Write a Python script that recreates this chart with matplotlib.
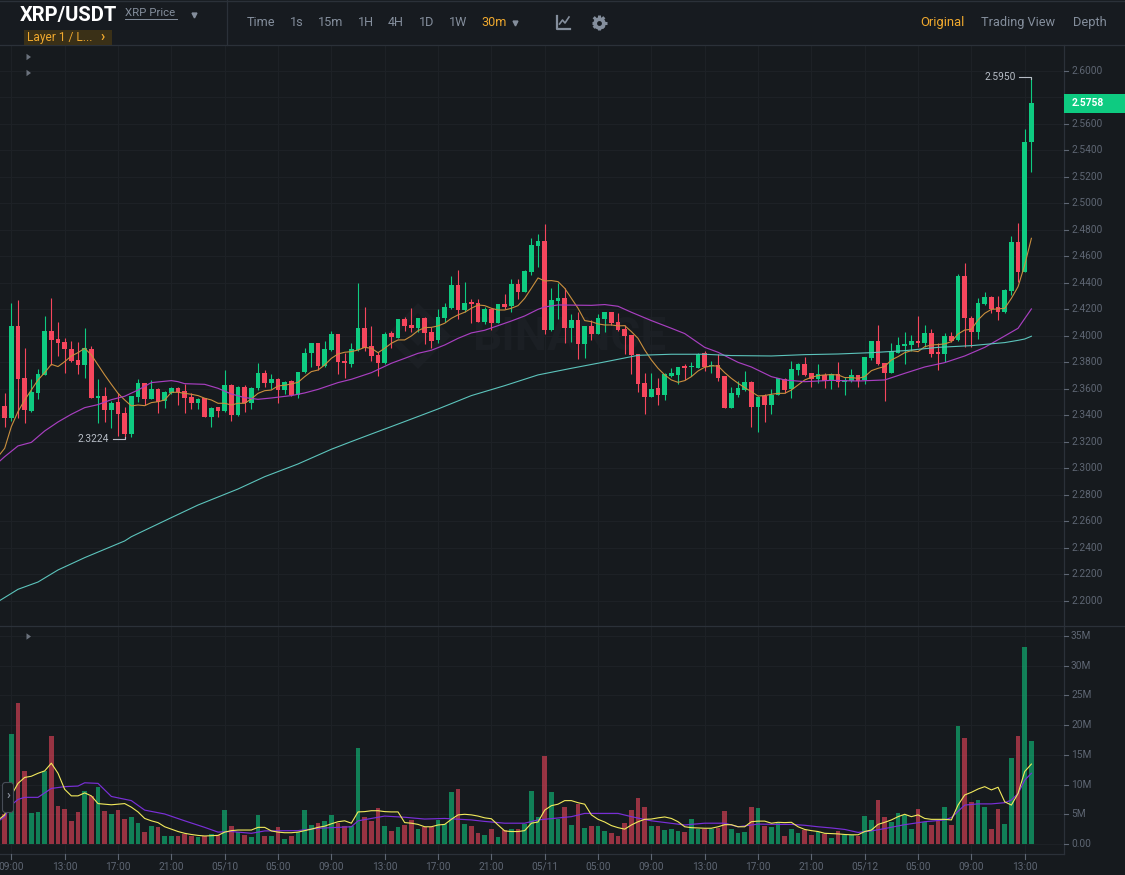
import matplotlib
matplotlib.use("Agg")
import matplotlib.pyplot as plt
from matplotlib.patches import FancyBboxPatch, Polygon, Rectangle

plt.rcParams['font.family'] = ['Roboto', 'DejaVu Sans']

W, H = 1125, 875
BG = '#161a1e'
GRID = '#1d2126'
AXIS = '#2b3139'
TICK = '#5e6673'
MUTED = '#848e9c'
GOLD = '#f0a92e'
UP = '#0ecb81'
DOWN = '#f6465d'
MARK = '#1b1f24'

#####
# 30m candles, 05/09 08:30 to 05/12 13:30
opens = [2.3470, 2.3377, 2.4073, 2.3678, 2.3432, 2.3570, 2.3704, 2.4038, 2.3975, 2.3950,
         2.3897, 2.3817, 2.3779, 2.3897, 2.3533, 2.3548, 2.3440, 2.3497, 2.3419, 2.3256,
         2.3540, 2.3641, 2.3522, 2.3598, 2.3510, 2.3570, 2.3606, 2.3585, 2.3535, 2.3495,
         2.3528, 2.3389, 2.3460, 2.3432, 2.3628, 2.3402, 2.3616, 2.3490, 2.3603, 2.3716,
         2.3641, 2.3671, 2.3590, 2.3656, 2.3553, 2.3724, 2.3867, 2.3943, 2.3772, 2.3892,
         2.4013, 2.3809, 2.3787, 2.3892, 2.4061, 2.3922, 2.3855, 2.3792, 2.4018, 2.3985,
         2.4124, 2.4084, 2.4058, 2.4136, 2.4026, 2.3968, 2.4131, 2.4207, 2.4383, 2.4194,
         2.4252, 2.4245, 2.4106, 2.4199, 2.4094, 2.4240, 2.4224, 2.4390, 2.4333, 2.4479,
         2.4680, 2.4712, 2.4043, 2.4265, 2.4285, 2.4061, 2.4119, 2.3938, 2.4074, 2.4013,
         2.4126, 2.4177, 2.4106, 2.4051, 2.4003, 2.3860, 2.3641, 2.3540, 2.3603, 2.3553,
         2.3696, 2.3704, 2.3772, 2.3762, 2.3759, 2.3867, 2.3772, 2.3779, 2.3696, 2.3457,
         2.3553, 2.3590, 2.3648, 2.3465, 2.3545, 2.3477, 2.3553, 2.3673, 2.3595, 2.3739,
         2.3789, 2.3716, 2.3673, 2.3704, 2.3661, 2.3709, 2.3648, 2.3658, 2.3701, 2.3666,
         2.3829, 2.3960, 2.3797, 2.3721, 2.3872, 2.3922, 2.3928, 2.3960, 2.3943, 2.4021,
         2.3875, 2.3862, 2.3998, 2.3968, 2.4451, 2.4136, 2.4028, 2.4240, 2.4295, 2.4214,
         2.4179, 2.4340, 2.4710, 2.4478, 2.5459]
highs = [2.3565, 2.4245, 2.4270, 2.3910, 2.3673, 2.3746, 2.4149, 2.4287, 2.4101, 2.3980,
         2.3960, 2.3950, 2.4058, 2.3925, 2.3671, 2.3611, 2.3510, 2.3565, 2.3465, 2.3545,
         2.3673, 2.3646, 2.3666, 2.3603, 2.3583, 2.3616, 2.3611, 2.3633, 2.3565, 2.3533,
         2.3533, 2.3465, 2.3465, 2.3741, 2.3633, 2.3621, 2.3628, 2.3616, 2.3797, 2.3741,
         2.3709, 2.3678, 2.3658, 2.3666, 2.3729, 2.3905, 2.3948, 2.3948, 2.3960, 2.4038,
         2.4013, 2.3867, 2.3948, 2.4395, 2.4214, 2.4076, 2.3880, 2.4031, 2.4036, 2.4126,
         2.4139, 2.4207, 2.4136, 2.4144, 2.4063, 2.4199, 2.4245, 2.4451, 2.4496, 2.4403,
         2.4277, 2.4277, 2.4219, 2.4207, 2.4240, 2.4315, 2.4428, 2.4428, 2.4496, 2.4735,
         2.4768, 2.4843, 2.4358, 2.4395, 2.4358, 2.4162, 2.4182, 2.4074, 2.4119, 2.4164,
         2.4177, 2.4177, 2.4169, 2.4081, 2.4006, 2.3860, 2.3716, 2.3716, 2.3678, 2.3716,
         2.3759, 2.3767, 2.3784, 2.3804, 2.3867, 2.3887, 2.3812, 2.3862, 2.3696, 2.3616,
         2.3661, 2.3736, 2.3661, 2.3545, 2.3560, 2.3595, 2.3683, 2.3678, 2.3809, 2.3792,
         2.3840, 2.3721, 2.3784, 2.3721, 2.3716, 2.3799, 2.3691, 2.3746, 2.3706, 2.3842,
         2.3963, 2.4081, 2.3797, 2.3943, 2.3993, 2.4026, 2.4006, 2.4149, 2.4081, 2.4051,
         2.3943, 2.4018, 2.4026, 2.4466, 2.4551, 2.4149, 2.4287, 2.4328, 2.4300, 2.4300,
         2.4350, 2.4753, 2.4848, 2.5558, 2.5950]
lows = [2.3309, 2.3359, 2.3377, 2.3339, 2.3427, 2.3520, 2.3704, 2.3779, 2.3847, 2.3716,
        2.3804, 2.3711, 2.3678, 2.3528, 2.3344, 2.3351, 2.3304, 2.3243, 2.3224, 2.3233,
        2.3502, 2.3477, 2.3522, 2.3419, 2.3457, 2.3560, 2.3477, 2.3417, 2.3447, 2.3445,
        2.3389, 2.3309, 2.3389, 2.3427, 2.3356, 2.3397, 2.3427, 2.3445, 2.3590, 2.3611,
        2.3595, 2.3495, 2.3560, 2.3548, 2.3528, 2.3719, 2.3767, 2.3741, 2.3767, 2.3887,
        2.3711, 2.3678, 2.3767, 2.3887, 2.3887, 2.3809, 2.3699, 2.3787, 2.3905, 2.3985,
        2.4038, 2.4026, 2.4031, 2.3938, 2.3910, 2.3948, 2.4101, 2.4202, 2.4124, 2.4182,
        2.4099, 2.4106, 2.4089, 2.4043, 2.4094, 2.4202, 2.4182, 2.4275, 2.4328, 2.4458,
        2.4516, 2.4013, 2.4038, 2.4129, 2.3943, 2.3955, 2.3825, 2.3830, 2.3968, 2.4013,
        2.4031, 2.4081, 2.4038, 2.3862, 2.3711, 2.3578, 2.3409, 2.3540, 2.3477, 2.3515,
        2.3686, 2.3636, 2.3666, 2.3699, 2.3754, 2.3736, 2.3716, 2.3661, 2.3452, 2.3452,
        2.3540, 2.3585, 2.3314, 2.3276, 2.3351, 2.3407, 2.3553, 2.3565, 2.3533, 2.3704,
        2.3699, 2.3616, 2.3646, 2.3608, 2.3598, 2.3616, 2.3555, 2.3653, 2.3616, 2.3633,
        2.3817, 2.3779, 2.3507, 2.3721, 2.3867, 2.3784, 2.3887, 2.3917, 2.3917, 2.3842,
        2.3741, 2.3804, 2.3955, 2.3960, 2.3912, 2.3912, 2.3975, 2.4232, 2.4169, 2.4119,
        2.4174, 2.4307, 2.4403, 2.4478, 2.5233]
closes = [2.3377, 2.4073, 2.3673, 2.3440, 2.3573, 2.3711, 2.4038, 2.3968, 2.3943, 2.3897,
          2.3809, 2.3782, 2.3905, 2.3533, 2.3548, 2.3440, 2.3495, 2.3409, 2.3258, 2.3545,
          2.3641, 2.3520, 2.3598, 2.3502, 2.3578, 2.3608, 2.3578, 2.3528, 2.3495, 2.3523,
          2.3389, 2.3457, 2.3430, 2.3628, 2.3402, 2.3611, 2.3490, 2.3608, 2.3716, 2.3641,
          2.3673, 2.3590, 2.3653, 2.3553, 2.3726, 2.3872, 2.3943, 2.3772, 2.3897, 2.4013,
          2.3799, 2.3792, 2.3897, 2.4061, 2.3910, 2.3847, 2.3792, 2.4013, 2.3993, 2.4124,
          2.4076, 2.4061, 2.4131, 2.4018, 2.3963, 2.4141, 2.4217, 2.4383, 2.4194, 2.4250,
          2.4237, 2.4106, 2.4199, 2.4094, 2.4240, 2.4219, 2.4393, 2.4333, 2.4491, 2.4687,
          2.4712, 2.4043, 2.4270, 2.4285, 2.4061, 2.4119, 2.3938, 2.4074, 2.4013, 2.4136,
          2.4177, 2.4099, 2.4043, 2.4001, 2.3855, 2.3633, 2.3540, 2.3598, 2.3553, 2.3711,
          2.3716, 2.3764, 2.3754, 2.3772, 2.3865, 2.3762, 2.3779, 2.3684, 2.3457, 2.3565,
          2.3606, 2.3648, 2.3465, 2.3540, 2.3477, 2.3555, 2.3678, 2.3590, 2.3746, 2.3789,
          2.3704, 2.3673, 2.3709, 2.3661, 2.3711, 2.3648, 2.3666, 2.3701, 2.3661, 2.3837,
          2.3960, 2.3787, 2.3721, 2.3882, 2.3930, 2.3935, 2.3960, 2.3943, 2.4021, 2.3862,
          2.3860, 2.4000, 2.3963, 2.4451, 2.4131, 2.4031, 2.4245, 2.4292, 2.4202, 2.4179,
          2.4345, 2.4705, 2.4484, 2.5465, 2.5758]

# traded volume per candle, in millions
volumes = [5.05, 18.5, 23.8, 12.2, 5.3, 5.4, 12.2, 18.2, 6.4, 5.9,
           3.8, 5.4, 9.0, 8.1, 9.6, 5.6, 5.0, 5.8, 4.2, 4.5,
           3.5, 2.0, 3.0, 2.9, 1.35, 1.35, 1.35, 1.7, 1.4, 1.2,
           1.35, 1.6, 1.5, 5.7, 3.1, 2.1, 1.5, 1.2, 4.9, 1.4,
           1.35, 2.9, 0.85, 1.35, 2.1, 5.7, 3.2, 3.5, 3.9, 4.9,
           3.5, 3.0, 3.0, 16.1, 4.5, 3.8, 6.0, 3.1, 2.2, 2.9,
           3.25, 4.0, 2.5, 2.8, 2.8, 4.1, 3.3, 8.75, 9.3, 3.3,
           3.0, 1.8, 1.45, 2.5, 1.2, 2.35, 2.5, 2.45, 3.4, 9.0,
           4.5, 14.8, 8.75, 4.25, 6.3, 3.2, 6.7, 2.7, 3.0, 3.0,
           2.2, 1.8, 1.35, 3.6, 5.7, 7.8, 6.3, 3.0, 3.1, 2.35,
           2.45, 2.25, 2.0, 4.25, 2.45, 2.5, 2.5, 2.75, 5.55, 2.6,
           1.9, 2.0, 6.3, 6.05, 3.1, 2.9, 3.6, 1.35, 2.6, 1.8,
           2.35, 1.5, 2.1, 1.7, 1.0, 2.2, 1.5, 1.5, 1.35, 4.7,
           4.0, 7.4, 4.6, 3.75, 5.3, 4.9, 2.45, 5.95, 3.75, 3.2,
           3.9, 6.2, 3.25, 19.85, 17.9, 7.1, 7.4, 6.3, 2.45, 5.9,
           3.35, 14.5, 18.2, 33.1, 17.4]

# orange average on the price pane, from just left of the first candle, one value per candle
ma_fast = [2.3087, 2.3150, 2.3314, 2.3427, 2.3515, 2.3590, 2.3666, 2.3721, 2.3784, 2.3767, 2.3804,
           2.3847, 2.3872, 2.3905, 2.3855, 2.3779, 2.3704, 2.3633, 2.3565, 2.3515, 2.3470,
           2.3477, 2.3472, 2.3495, 2.3502, 2.3515, 2.3573, 2.3573, 2.3565, 2.3558, 2.3548,
           2.3528, 2.3515, 2.3490, 2.3490, 2.3477, 2.3490, 2.3490, 2.3523, 2.3565, 2.3585,
           2.3590, 2.3621, 2.3626, 2.3636, 2.3648, 2.3691, 2.3729, 2.3741, 2.3779, 2.3829,
           2.3862, 2.3875, 2.3880, 2.3892, 2.3912, 2.3905, 2.3872, 2.3905, 2.3943, 2.3968,
           2.3968, 2.3998, 2.4038, 2.4061, 2.4063, 2.4074, 2.4094, 2.4131, 2.4157, 2.4177,
           2.4207, 2.4232, 2.4227, 2.4207, 2.4194, 2.4194, 2.4207, 2.4227, 2.4282, 2.4358,
           2.4436, 2.4413, 2.4416, 2.4408, 2.4358, 2.4282, 2.4207, 2.4114, 2.4106, 2.4089,
           2.4081, 2.4081, 2.4074, 2.4076, 2.4031, 2.3980, 2.3892, 2.3817, 2.3754, 2.3704,
           2.3666, 2.3648, 2.3661, 2.3691, 2.3734, 2.3762, 2.3772, 2.3772, 2.3721, 2.3678,
           2.3641, 2.3608, 2.3578, 2.3545, 2.3548, 2.3558, 2.3565, 2.3565, 2.3590, 2.3628,
           2.3666, 2.3686, 2.3699, 2.3704, 2.3706, 2.3704, 2.3684, 2.3684, 2.3678, 2.3691,
           2.3736, 2.3754, 2.3767, 2.3817, 2.3842, 2.3872, 2.3887, 2.3880, 2.3917, 2.3930,
           2.3933, 2.3938, 2.3955, 2.4013, 2.4043, 2.4048, 2.4119, 2.4169, 2.4199, 2.4202,
           2.4207, 2.4282, 2.4370, 2.4534, 2.4735]

# purple and cyan averages are smooth, read at the candles listed beside them
ma_mid_idx = [-1, 0, 2, 4, 6, 8, 10, 12, 14, 16, 18, 20, 22, 24, 25, 26, 27, 30, 32, 34,
              36, 38, 40, 43, 45, 47, 50, 52, 55, 58, 60, 62, 64, 66, 68, 70, 72, 74, 76, 78,
              80, 81, 83, 88, 90, 92, 94, 97, 100, 102, 105, 107, 110, 112, 115, 117, 120, 124, 128, 132,
              135, 138, 141, 144, 147, 150, 152, 154]
ma_mid = [2.3042, 2.3087, 2.3168, 2.3195, 2.3281, 2.3349, 2.3407, 2.3457, 2.3480, 2.3517,
          2.3543, 2.3590, 2.3646, 2.3656, 2.3661, 2.3653, 2.3638, 2.3633, 2.3603, 2.3560,
          2.3533, 2.3520, 2.3530, 2.3548, 2.3568, 2.3595, 2.3646, 2.3671, 2.3721, 2.3792,
          2.3829, 2.3867, 2.3890, 2.3930, 2.3980, 2.4021, 2.4041, 2.4076, 2.4111, 2.4149,
          2.4199, 2.4217, 2.4232, 2.4229, 2.4235, 2.4222, 2.4177, 2.4114, 2.4056, 2.4016,
          2.3912, 2.3875, 2.3799, 2.3764, 2.3691, 2.3666, 2.3653, 2.3663, 2.3658, 2.3666,
          2.3716, 2.3764, 2.3797, 2.3847, 2.3912, 2.3998, 2.4056, 2.4202]
ma_slow_idx = [-1, 2, 5, 8, 12, 18, 19, 25, 29, 35, 39, 44, 49, 52, 55, 60, 65, 70, 75, 80,
               85, 90, 95, 100, 105, 109, 115, 120, 125, 130, 135, 140, 145, 150, 152, 153, 154]
ma_slow = [2.1993, 2.2086, 2.2141, 2.2232, 2.2325, 2.2451, 2.2483, 2.2627, 2.2722, 2.2843,
           2.2936, 2.3032, 2.3143, 2.3201, 2.3258, 2.3352, 2.3447, 2.3548, 2.3623, 2.3704,
           2.3754, 2.3802, 2.3852, 2.3860, 2.3860, 2.3850, 2.3847, 2.3857, 2.3862, 2.3872,
           2.3887, 2.3912, 2.3925, 2.3948, 2.3965, 2.3975, 2.3996]

# yellow average on the volume pane, same candles as ma_fast
vol_ma_fast = [4.0, 4.9, 8.2, 10.2, 11.2, 11.4, 11.9, 12.3, 13.6, 11.9, 9.2,
               8.1, 8.1, 8.6, 8.1, 6.8, 6.7, 6.6, 6.7, 6.8, 6.2,
               5.4, 4.3, 3.9, 3.6, 2.9, 2.5, 2.1, 1.8, 1.6, 1.45,
               1.35, 1.4, 1.45, 2.0, 2.25, 2.35, 2.35, 2.35, 2.8, 2.8,
               2.2, 2.0, 1.9, 1.9, 2.0, 2.25, 2.5, 2.8, 3.0, 3.4,
               3.75, 3.9, 3.5, 5.4, 5.45, 5.6, 5.6, 5.45, 5.4, 5.4,
               3.6, 3.5, 3.3, 2.9, 2.9, 3.2, 3.3, 4.15, 4.9, 5.0,
               4.9, 4.7, 4.4, 4.25, 3.2, 2.2, 2.1, 2.1, 2.25, 3.5,
               3.7, 5.7, 6.45, 6.7, 7.3, 7.3, 6.95, 6.7, 4.9, 4.15,
               3.7, 3.1, 2.75, 2.5, 3.2, 3.75, 4.15, 4.2, 4.4, 4.55,
               4.3, 3.75, 2.9, 2.75, 2.7, 2.65, 2.65, 2.9, 3.25, 3.25,
               2.9, 2.9, 3.75, 3.85, 3.85, 3.5, 3.65, 3.6, 3.65, 2.9,
               2.45, 2.25, 2.1, 1.8, 1.75, 1.7, 1.6, 1.55, 1.55, 2.1,
               2.35, 3.3, 3.65, 4.05, 4.6, 5.0, 4.6, 4.9, 4.3, 4.15,
               4.15, 4.15, 4.05, 6.55, 8.25, 8.7, 9.25, 9.65, 9.1, 9.55,
               7.1, 6.55, 8.5, 12.2, 13.45]

vol_ma_slow_idx = [-1, 0, 1, 2, 3, 5, 7, 9, 11, 12, 14, 16, 19, 21, 24, 27, 30, 32, 34, 37,
                   39, 44, 47, 52, 53, 55, 57, 60, 63, 66, 70, 72, 75, 78, 80, 85, 87, 92, 94, 97,
                   102, 105, 108, 110, 113, 116, 118, 120, 122, 124, 126, 128, 130, 132, 135, 138, 141, 142, 144, 146,
                   148, 150, 151, 152, 153, 154]
vol_ma_slow = [3.8, 4.6, 6.55, 7.5, 7.85, 7.85, 9.35, 9.65, 9.75, 10.3,
               10.2, 8.0, 7.3, 5.7, 5.05, 3.9, 2.8, 2.0, 2.1, 1.8,
               2.2, 2.25, 2.65, 2.9, 3.9, 4.3, 4.7, 4.5, 4.2, 4.3,
               4.05, 3.8, 3.5, 3.5, 4.05, 4.6, 5.15, 5.15, 4.6, 3.9,
               3.2, 3.5, 3.5, 2.9, 3.35, 3.3, 3.3, 3.15, 2.9, 2.7,
               2.45, 1.95, 2.2, 2.6, 3.25, 3.75, 4.05, 4.45, 6.55, 6.75,
               6.75, 6.95, 7.4, 8.5, 10.75, 11.9]

time_ticks = [1 + 8 * k for k in range(20)]
time_labels = ['09:00', '13:00', '17:00', '21:00', '05/10', '05:00', '09:00', '13:00', '17:00', '21:00',
               '05/11', '05:00', '09:00', '13:00', '17:00', '21:00', '05/12', '05:00', '09:00', '13:00']
price_ticks = [round(2.20 + 0.02 * k, 2) for k in range(21)]
vol_ticks = [0, 5, 10, 15, 20, 25, 30, 35]
vol_labels = ['0.00', '5M', '10M', '15M', '20M', '25M', '30M', '35M']
last_price = closes[-1]
top_price = 2.5950
bottom_price = 2.3224
#####


def pane(left, top, right, bottom):
    """axes placed by pixel edges, y measured from the top of the figure"""
    ax = fig.add_axes([left / W, 1 - bottom / H, (right - left) / W, (bottom - top) / H])
    ax.set_facecolor('none')
    for side in ax.spines.values():
        side.set_visible(False)
    ax.tick_params(left=False, right=False, top=False, bottom=False,
                   labelleft=False, labelbottom=False)
    return ax


def pixel_layer():
    """full-figure axes in pixel units, origin top left"""
    layer = fig.add_axes([0, 0, 1, 1])
    layer.set_xlim(0, W)
    layer.set_ylim(H, 0)
    layer.axis('off')
    layer.patch.set_alpha(0)
    return layer


fig = plt.figure(figsize=(W / 100, H / 100), dpi=100, facecolor=BG)

# faint exchange mark behind the candles
back = pixel_layer()
back.text(569, 337, 'BINANCE', color=MARK, fontsize=33, fontweight='bold', ha='center', va='center')
back.add_patch(Polygon([[418, 308], [446, 336], [418, 364], [390, 336]], fc='none', ec=MARK, lw=5))
back.add_patch(Polygon([[418, 326], [428, 336], [418, 346], [408, 336]], fc=MARK, ec='none'))

# candle i sits at 4.67 + 6.667 i pixels
x_range = (-4.67 / 6.667, (1063 - 4.67) / 6.667)
xs = list(range(len(closes)))
ma_xs = [-1] + xs
colors = [UP if c >= o else DOWN for o, c in zip(opens, closes)]

# price pane
ax = pane(0, 45, 1063, 626)
ax.set_xlim(*x_range)
ax.set_ylim(2.6 - (626 - 70.7) / 1325, 2.6 + (70.7 - 45) / 1325)
ax.set_xticks(time_ticks)
ax.set_yticks(price_ticks)
ax.grid(True, color=GRID, lw=0.8, zorder=0)
ax.set_axisbelow(True)

ax.vlines(xs, lows, highs, colors=colors, lw=0.8, zorder=3)
ax.bar(xs, [max(abs(c - o), 0.0006) for o, c in zip(opens, closes)],
       bottom=[min(o, c) for o, c in zip(opens, closes)],
       width=0.7, color=colors, lw=0, zorder=4)

ax.plot(ma_xs, ma_fast, color='#c98f3e', lw=0.8, zorder=5)
ax.plot(ma_mid_idx, ma_mid, color='#a83fc0', lw=0.85, zorder=5)
ax.plot(ma_slow_idx, ma_slow, color='#5cc4bc', lw=0.8, zorder=5)

# high and low callouts
ax.plot([152.2, 154, 154], [top_price, top_price, top_price - 0.001], color='#b7bdc6', lw=0.8, zorder=6)
ax.text(151.7, top_price, '%.4f' % top_price, color='#b7bdc6', fontsize=7.3, ha='right', va='center')
ax.plot([16.2, 18, 18], [bottom_price, bottom_price, bottom_price + 0.001], color='#b7bdc6', lw=0.8, zorder=6)
ax.text(15.7, bottom_price, '%.4f' % bottom_price, color='#b7bdc6', fontsize=7.3, ha='right', va='center')

# volume pane
vax = pane(0, 626, 1063, 854)
vax.set_xlim(*x_range)
vax.set_ylim(-10 / 5.943, 35 + 10 / 5.943)
vax.set_xticks(time_ticks)
vax.set_yticks(vol_ticks)
vax.grid(True, color=GRID, lw=0.8, zorder=0)
vax.set_axisbelow(True)
vax.bar(xs, volumes, width=0.68, color=colors, alpha=0.58, lw=0, zorder=3)
vax.plot(vol_ma_slow_idx, vol_ma_slow, color='#7a2fd8', lw=0.85, zorder=4)
vax.plot(ma_xs, vol_ma_fast, color='#f2ea5c', lw=0.8, zorder=5)

# tick labels and frame are drawn on a full-figure layer in pixels
ui = pixel_layer()

ui.add_patch(Rectangle((0, 0), W, 44.5, fc='#171b20', ec='none', zorder=1))
ui.plot([0, W], [0.5, 0.5], color=AXIS, lw=1)
ui.plot([0, W], [44.5, 44.5], color=AXIS, lw=0.9)
ui.plot([0, W], [626, 626], color=AXIS, lw=0.9)
ui.plot([227, 227], [0, 44.5], color=AXIS, lw=0.9)
ui.plot([1063.5, 1063.5], [45, 854], color=AXIS, lw=0.9)
ui.plot([0, 1063.5], [854, 854], color=AXIS, lw=0.9)

for price in price_ticks:
    # 2.5800 sits under the last price tag
    if price == 2.58:
        continue
    y = 70.7 + (2.6 - price) * 1325
    ui.plot([1063.5, 1068], [y, y], color=TICK, lw=0.8)
    ui.text(1071, y, '%.4f' % price, color=TICK, fontsize=7.3, va='center', ha='left')
for v, label in zip(vol_ticks, vol_labels):
    y = 844 - v * 5.943
    ui.plot([1063.5, 1068], [y, y], color=TICK, lw=0.8)
    ui.text(1071, y, label, color=TICK, fontsize=7.3, va='center', ha='left')
for i, label in zip(time_ticks, time_labels):
    x = 4.67 + 6.667 * i
    ui.plot([x, x], [854, 859], color=TICK, lw=0.8)
    ui.text(x, 866.5, label, color=TICK, fontsize=7.3, va='center', ha='center')

# last price tag
ui.add_patch(Rectangle((1064, 94), 61, 18.5, fc=UP, ec='none', zorder=3))
ui.text(1088, 103.5, '%.4f' % last_price, color='white', fontsize=7.4, fontweight='bold',
        va='center', ha='center', zorder=4)

# header bar
ui.text(20, 15, 'XRP/USDT', color='white', fontsize=14.5, fontweight='bold', va='center', zorder=3)
ui.text(125, 13.5, 'XRP Price', color=MUTED, fontsize=8.2, va='center', zorder=3)
ui.plot([125, 177], [18.8, 18.8], color=MUTED, lw=0.7, zorder=3)
ui.plot([194], [14.5], marker='v', ms=3.5, color=MUTED, zorder=3)
ui.add_patch(Rectangle((23.5, 30), 88.5, 15, fc='#3a3017', ec='none', zorder=2))
ui.text(27, 37.5, 'Layer 1 / L...', color=GOLD, fontsize=8.6, va='center', zorder=3)
ui.text(103, 37, '\u203a', color=GOLD, fontsize=10, va='center', ha='center', zorder=3, fontweight='bold')

for x, label in zip([261, 297, 330.5, 366, 396, 427, 458],
                    ['Time', '1s', '15m', '1H', '4H', '1D', '1W']):
    ui.text(x, 22.5, label, color=MUTED, fontsize=9.1, va='center', ha='center', zorder=3)
ui.text(494, 22.5, '30m', color=GOLD, fontsize=9, va='center', ha='center', zorder=3)
ui.plot([515], [22.5], marker='v', ms=3.5, color=MUTED, zorder=3)

# small chart and gear icons
ui.plot([557, 557, 570], [16, 29, 29], color=MUTED, lw=1.6, zorder=3)
ui.plot([559.5, 562.5, 565, 569], [24, 20, 23, 17], color=MUTED, lw=1.2, zorder=3)
for dx, dy in [(7.5, 0), (0, 7.5), (5.3, 5.3), (5.3, -5.3)]:
    ui.plot([599 - dx, 599 + dx], [22.5 - dy, 22.5 + dy], color=MUTED, lw=2.2, zorder=3, solid_capstyle='butt')
ui.plot([599], [22.5], marker='o', ms=9, color=MUTED, mew=0, zorder=3)
ui.plot([599], [22.5], marker='o', ms=3.5, color='#171b20', mew=0, zorder=4)

ui.text(942, 22.5, 'Original', color=GOLD, fontsize=9.4, va='center', ha='center', zorder=3)
ui.text(1018.5, 22.5, 'Trading View', color=MUTED, fontsize=9.2, va='center', ha='center', zorder=3)
ui.text(1090, 22.5, 'Depth', color=MUTED, fontsize=9.3, va='center', ha='center', zorder=3)

# collapse markers and side tab
for y in [57, 73, 636.5]:
    ui.add_patch(Polygon([[26.5, y - 3.2], [26.5, y + 3.2], [31, y]], fc='#6b727d', ec='none', zorder=3))
ui.add_patch(FancyBboxPatch((4, 784), 8, 27, boxstyle='round,pad=1.5,rounding_size=3',
                            fc=BG, ec='#474d57', lw=0.8, zorder=6))
ui.text(8, 796, '\u203a', color='#8a919c', fontsize=9, fontweight='bold', va='center', ha='center', zorder=7)

fig.savefig('out.png', dpi=100, facecolor=BG)
plt.close(fig)
